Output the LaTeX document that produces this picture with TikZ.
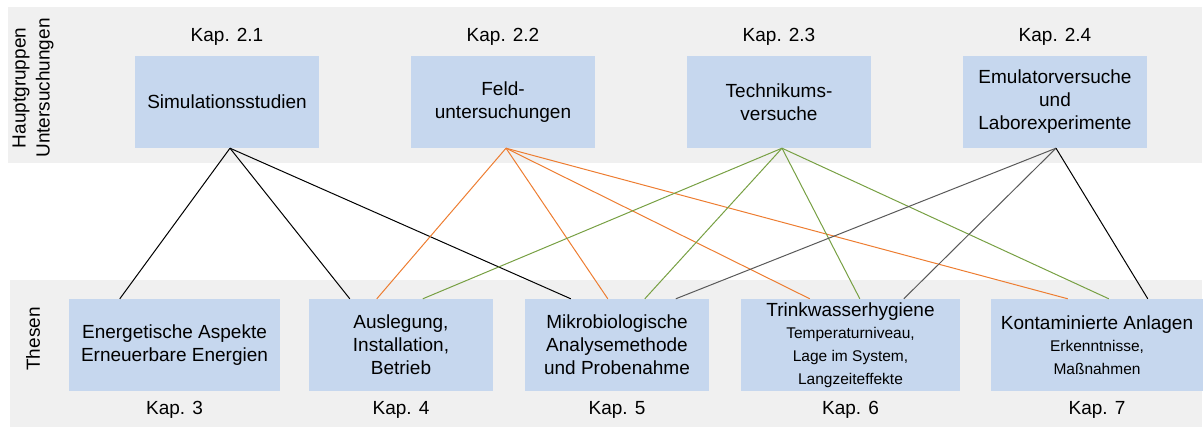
\documentclass[tikz,border=0pt]{standalone}
\usepackage{fontspec}
\setmainfont{Liberation Sans}
\usetikzlibrary{calc}
\definecolor{bandgray}{HTML}{F0F0F0}
\definecolor{boxblue}{HTML}{C6D7EE}
\definecolor{lorange}{HTML}{ED7D31}
\definecolor{lgreen}{HTML}{77A043}
\definecolor{lgray}{HTML}{595959}
\begin{document}
\begin{tikzpicture}[x=1pt,y=-1pt,
  band/.style={fill=bandgray,draw=none},
  topbox/.style={rectangle,fill=boxblue,draw=none,inner sep=0pt,align=center,
    minimum width=184pt,minimum height=92pt,font=\fontsize{19}{23}\selectfont},
  botbox/.style={rectangle,fill=boxblue,draw=none,inner sep=0pt,align=center,
    minimum height=92pt,font=\fontsize{19}{23}\selectfont},
  kap/.style={inner sep=0pt,font=\fontsize{19}{23}\selectfont},
  side/.style={inner sep=0pt,rotate=90,align=center,font=\fontsize{19}{24}\selectfont},
  link/.style={line width=1pt},
  small/.style={}
]
\useasboundingbox (0,0) rectangle (1203,427);
\fill[band] (8,7) rectangle (1202,163);
\fill[band] (10,280) rectangle (1202,427);

\node[side] (hg) at (33,88) {Hauptgruppen\\Untersuchungen};
\node[side] (th) at (33,339) {Thesen};

\node[kap] (k21) at (227,37) {Kap. 2.1};
\node[kap] (k22) at (503,37) {Kap. 2.2};
\node[kap] (k23) at (779,37) {Kap. 2.3};
\node[kap] (k24) at (1055,37) {Kap. 2.4};

\node[topbox] (t1) at (227,102) {Simulationsstudien};
\node[topbox] (t2) at (503,102) {Feld-\\untersuchungen};
\node[topbox] (t3) at (779,102) {Technikums-\\versuche};
\node[topbox] (t4) at (1055,102) {Emulatorversuche\\und\\Laborexperimente};

\node[botbox,minimum width=211pt] (b1) at (174.5,345) {Energetische Aspekte\\Erneuerbare Energien};
\node[botbox,minimum width=184pt] (b2) at (401,345) {Auslegung,\\Installation,\\Betrieb};
\node[botbox,minimum width=184pt] (b3) at (617,345) {Mikrobiologische\\Analysemethode\\und Probenahme};
\node[botbox,minimum width=219pt] (b4) at (850.5,345) {Trinkwasserhygiene\\[-1pt]{\fontsize{15.5}{21}\selectfont Temperaturniveau,}\\{\fontsize{15.5}{21}\selectfont Lage im System,}\\{\fontsize{15.5}{21}\selectfont Langzeiteffekte}};
\node[botbox,minimum width=212pt] (b5) at (1097,345) {Kontaminierte Anlagen\\[-1pt]{\fontsize{15.5}{21}\selectfont Erkenntnisse,}\\{\fontsize{15.5}{21}\selectfont Maßnahmen}};

\node[kap] (k3) at (174.5,410) {Kap. 3};
\node[kap] (k4) at (401,410) {Kap. 4};
\node[kap] (k5) at (617,410) {Kap. 5};
\node[kap] (k6) at (850.5,410) {Kap. 6};
\node[kap] (k7) at (1097,410) {Kap. 7};

% anchor points
\coordinate (s1) at ($(t1.south)+(3,0)$);
\coordinate (s2) at ($(t2.south)+(3,0)$);
\coordinate (s3) at ($(t3.south)+(3,0)$);
\coordinate (s4) at ($(t4.south)+(1,0)$);

% black from Simulationsstudien
\draw[link,black] (s1) -- ($(b1.north west)+(51,0)$);
\draw[link,black] (s1) -- ($(b2.north west)+(41,0)$);
\draw[link,black] (s1) -- ($(b3.north west)+(46,0)$);
% orange from Felduntersuchungen
\draw[link,lorange] (s2) -- ($(b2.north west)+(68,0)$);
\draw[link,lorange] (s2) -- ($(b3.north west)+(83,0)$);
\draw[link,lorange] (s2) -- ($(b4.north west)+(69,0)$);
\draw[link,lorange] (s2) -- ($(b5.north west)+(77,0)$);
% green from Technikumsversuche
\draw[link,lgreen] (s3) -- ($(b2.north west)+(114,0)$);
\draw[link,lgreen] (s3) -- ($(b3.north west)+(120,0)$);
\draw[link,lgreen] (s3) -- ($(b4.north west)+(119,0)$);
\draw[link,lgreen] (s3) -- ($(b5.north west)+(118,0)$);
% from Emulatorversuche
\draw[link,lgray] (s4) -- ($(b3.north west)+(151,0)$);
\draw[link,lgray] (s4) -- ($(b4.north west)+(163,0)$);
\draw[link,black] (s4) -- ($(b5.north west)+(157,0)$);
\end{tikzpicture}
\end{document}
